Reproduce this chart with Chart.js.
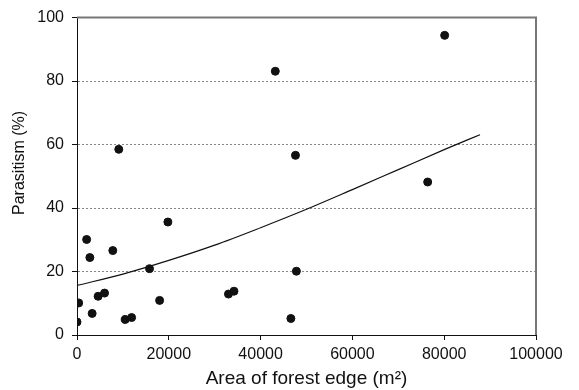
<!DOCTYPE html>
<html>
<head>
<meta charset="utf-8">
<script src="https://cdn.jsdelivr.net/npm/chart.js@4"></script>
<style>
  html, body { margin: 0; padding: 0; background: #fff; }
  #wrap { width: 579px; height: 390px; }
</style>
</head>
<body>
<div id="wrap"><canvas id="chart" width="579" height="390"></canvas></div>
<script>
// Observed points
const forestEdge = [0, 370, 2100, 2800, 3300, 4600, 6000, 7800, 9100, 10500, 11900,
  15800, 18000, 19800, 33000, 34200, 43200, 46600, 47600, 47800, 76400, 80100];
const parasitism = [4.1, 10.1, 30.1, 24.4, 6.8, 12.2, 13.2, 26.6, 58.5, 4.9, 5.5,
  20.9, 10.9, 35.6, 12.9, 13.8, 83.1, 5.2, 56.6, 20.1, 48.2, 94.4];

// Fitted curve
const fitX = [0, 10000, 20000, 30000, 40000, 50000, 60000, 70000, 80000, 87800];
const fitY = [15.6, 19.2, 23.5, 28.3, 33.8, 39.6, 45.8, 52.1, 58.4, 63.1];

const xTicks = [0, 20000, 40000, 60000, 80000, 100000];
const yTicks = [0, 20, 40, 60, 80, 100];

const font = { family: '"Liberation Sans", Arial, sans-serif', size: 16 };

// grey top/right frame of the plot
const frame = {
  id: 'frame',
  afterDatasetsDraw(chart) {
    const { ctx, chartArea: a } = chart;
    ctx.save();
    ctx.strokeStyle = '#777';
    ctx.lineWidth = 2;
    ctx.beginPath();
    ctx.moveTo(a.left, a.top);
    ctx.lineTo(a.right, a.top);
    ctx.lineTo(a.right, a.bottom);
    ctx.stroke();
    ctx.restore();
  }
};

new Chart(document.getElementById('chart'), {
  type: 'scatter',
  data: {
    datasets: [{
      data: forestEdge.map((x, i) => ({ x, y: parasitism[i] })),
      backgroundColor: '#111',
      borderColor: '#111',
      pointRadius: 4,
      pointHoverRadius: 4,
    }, {
      type: 'line',
      data: fitX.map((x, i) => ({ x, y: fitY[i] })),
      borderColor: '#111',
      borderWidth: 1.2,
      pointRadius: 0,
      fill: false,
      cubicInterpolationMode: 'monotone',
    }],
  },
  options: {
    responsive: false,
    animation: false,
    events: [],
    layout: { padding: { left: 0, top: 15, right: 43, bottom: 0 } },
    plugins: {
      legend: { display: false },
      tooltip: { enabled: false },
    },
    scales: {
      x: {
        type: 'linear',
        min: 0,
        max: 100000,
        afterBuildTicks: s => { s.ticks = xTicks.map(v => ({ value: v })); },
        afterFit: s => { s.height = 55; },
        border: { color: '#111', width: 1 },
        grid: { drawOnChartArea: false, drawTicks: true, tickLength: 5, tickColor: '#111' },
        ticks: { color: '#111', font, padding: 5, maxRotation: 0, callback: v => String(v) },
        title: {
          display: true,
          text: 'Area of forest edge (m²)',
          color: '#111',
          font: { ...font, size: 19 },
          padding: { top: 0, bottom: 0 },
        },
      },
      y: {
        min: 0,
        max: 100,
        afterBuildTicks: s => { s.ticks = yTicks.map(v => ({ value: v })); },
        afterFit: s => { s.width = 77; },
        border: { color: '#111', width: 1, dash: [2, 2] },
        grid: {
          color: c => (c.tick && (c.tick.value === 0 || c.tick.value === 100)) ? 'rgba(0,0,0,0)' : '#888',
          tickColor: '#111',
          tickBorderDash: [],
          tickLength: 5,
        },
        ticks: { color: '#111', font, padding: 8 },
        title: {
          display: true,
          text: '      Parasitism (%)',
          color: '#111',
          font,
          padding: { top: 10, bottom: 0 },
        },
      },
    },
  },
  plugins: [frame],
});
</script>
</body>
</html>
